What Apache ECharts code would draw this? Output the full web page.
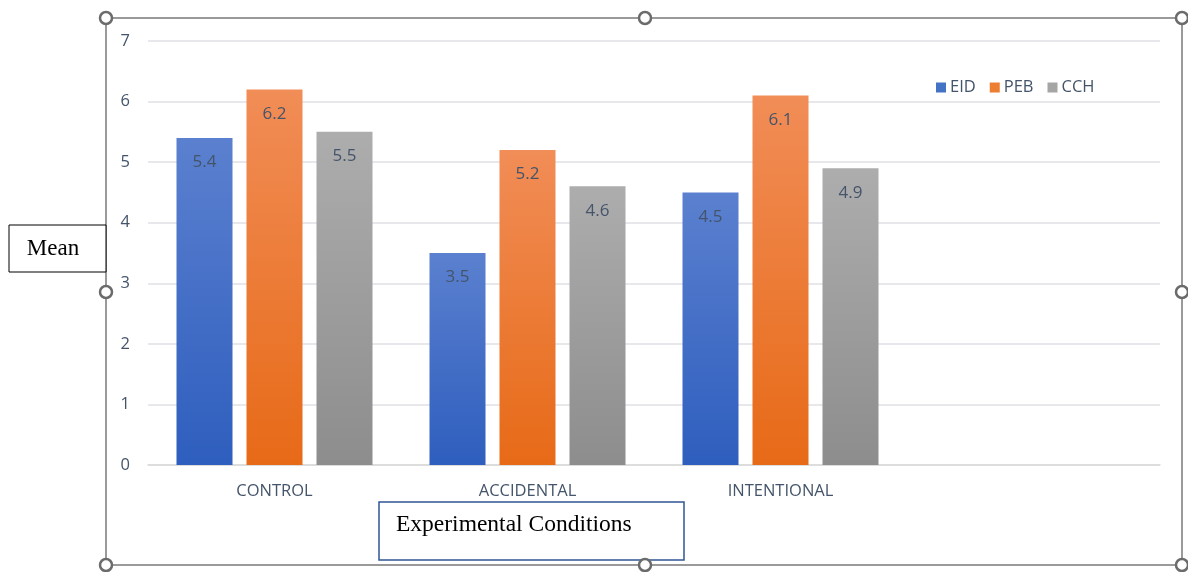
<!DOCTYPE html>
<html><head><meta charset="utf-8">
<script src="https://cdn.jsdelivr.net/npm/echarts@6/dist/echarts.min.js"></script>
<style>html,body{margin:0;padding:0;background:#fff}#c{width:1188px;height:572px}</style>
</head><body><div id="c"></div>
<script>
const categories = ['CONTROL', 'ACCIDENTAL', 'INTENTIONAL', ''];
const eid = [5.4, 3.5, 4.5, null];
const peb = [6.2, 5.2, 6.1, null];
const cch = [5.5, 4.6, 4.9, null];
const seriesNames = ['EID', 'PEB', 'CCH'];

const chart = echarts.init(document.getElementById('c'));
function grad(top, bottom) {
  return {type: 'linear', x: 0, y: 0, x2: 0, y2: 1, colorStops: [{offset: 0, color: top}, {offset: 1, color: bottom}]};
}
const solid = ['#4472C4', '#ED7D31', '#A5A5A5'];
const grads = [grad('#5B80CF', '#2E5EBE'), grad('#F18D57', '#E76A17'), grad('#ADADAD', '#8D8D8D')];
const labelStyle = {show: true, position: 'insideTop', distance: 16, color: '#44546A', fontSize: 17, fontFamily: 'Open Sans, sans-serif'};
const datas = [eid, peb, cch];

const handles = [[106,18],[645,18],[1182,18],[106,292],[1182,292],[106,565],[645,565],[1182,565]];
const graphics = [
  {type: 'rect', shape: {x: 106, y: 18, width: 1076, height: 547}, style: {fill: 'none', stroke: '#7a7a7a', lineWidth: 1.5}, z: 1},
  {type: 'rect', shape: {x: 9, y: 225, width: 97, height: 47}, style: {fill: '#fff', stroke: '#000', lineWidth: 1}, z: 10},
  {type: 'text', x: 53, y: 249, style: {text: 'Mean', font: '23px "Liberation Serif", serif', fill: '#000', align: 'center', verticalAlign: 'middle'}, z: 11},
  {type: 'rect', shape: {x: 379, y: 502, width: 305, height: 58}, style: {fill: '#fff', stroke: '#2F5597', lineWidth: 1.5}, z: 10},
  {type: 'text', x: 396, y: 525, style: {text: 'Experimental Conditions', font: '23.5px "Liberation Serif", serif', fill: '#000', align: 'left', verticalAlign: 'middle'}, z: 11}
];
handles.forEach(h => graphics.push({type: 'circle', shape: {cx: h[0], cy: h[1], r: 6}, style: {fill: '#fff', stroke: '#6b6b6b', lineWidth: 2.5}, z: 12}));

chart.setOption({
  animation: false,
  textStyle: {fontFamily: 'Open Sans, sans-serif'},
  grid: {left: 148, right: 28, top: 41, bottom: 107, containLabel: false},
  legend: {
    left: 931, top: 74, itemWidth: 10, itemHeight: 10, itemGap: 14, icon: 'rect',
    textStyle: {color: '#44546A', fontSize: 16.5, padding: [0, 0, 0, -1]},
    data: seriesNames.map((n, i) => ({name: n, itemStyle: {color: solid[i]}}))
  },
  xAxis: {
    type: 'category', data: categories,
    axisLine: {lineStyle: {color: '#D9D9D9', width: 1.5}},
    axisTick: {show: false},
    axisLabel: {color: '#44546A', fontSize: 16.5, margin: 18}
  },
  yAxis: {
    type: 'value', min: 0, max: 7, interval: 1,
    axisLine: {show: false}, axisTick: {show: false},
    splitLine: {lineStyle: {color: '#E0E0E6', width: 1.5}},
    axisLabel: {color: '#44546A', fontSize: 16.5, margin: 18}
  },
  series: seriesNames.map((n, i) => ({
    name: n, type: 'bar', data: datas[i], barWidth: 56, barGap: '25%',
    itemStyle: {color: grads[i]}, label: labelStyle
  })),
  graphic: graphics
});
</script></body></html>
